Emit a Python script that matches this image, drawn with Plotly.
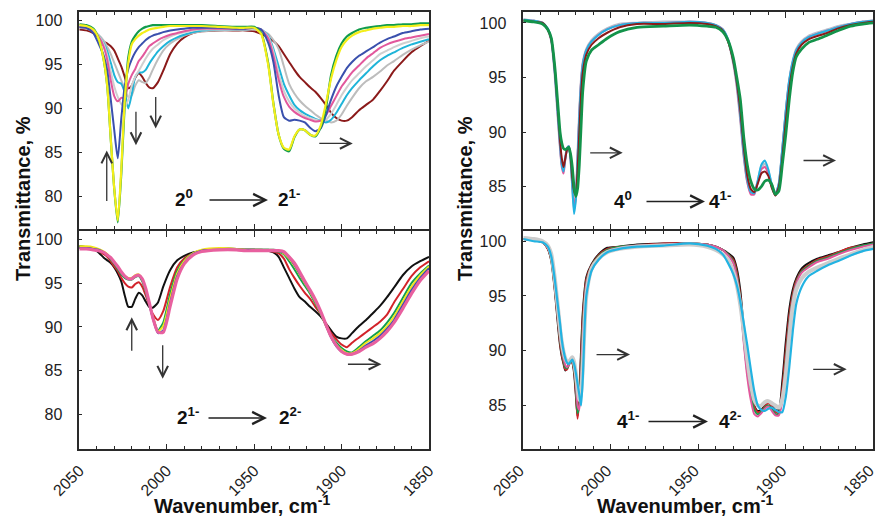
import plotly.graph_objects as go

# ---------------- data ----------------
# wavenumber grid for the left panels (cm-1)
XL = [2050, 2046, 2042, 2039, 2036, 2034, 2032, 2030, 2028, 2026,
      2024, 2022, 2020, 2018, 2016, 2014, 2012, 2010, 2008, 2005,
      2002, 1998, 1994, 1990, 1985, 1980, 1970, 1960, 1955,
      1950, 1946, 1942, 1939, 1936, 1933, 1930, 1927, 1924, 1921,
      1918, 1915, 1912, 1909, 1906, 1903, 1900, 1897, 1894, 1890,
      1886, 1882, 1878, 1874, 1870, 1865, 1860, 1855, 1850]

# top-left panel (2^0 -> 2^1-)
tl_maroon = [99.0, 98.9, 98.6, 98.1, 97.6, 97.4, 97.1, 96.6, 95.7, 94.8,
             93.6, 92.3, 92.6, 93.5, 94.0, 93.6, 92.9, 92.4, 92.3, 93.0,
             94.3, 96.2, 97.4, 98.1, 98.6, 98.8, 98.9, 98.9, 98.9,
             98.8, 98.5, 98.1, 97.7, 97.1, 96.2, 95.3, 94.4, 93.6, 93.0,
             92.4, 91.9, 91.2, 90.4, 89.5, 88.9, 88.6, 88.6, 89.0, 89.8,
             90.4, 91.0, 92.0, 93.1, 94.3, 95.4, 96.4, 97.1, 97.7]
tl_gray2 = [99.2, 99.1, 98.8, 98.4, 97.7, 97.0, 96.2, 95.2, 94.2, 93.2,
            92.2, 91.3, 91.5, 92.6, 93.2, 93.0, 92.9, 93.5, 94.4, 95.6,
            96.6, 97.4, 97.9, 98.3, 98.6, 98.8, 98.9, 99.0, 99.0,
            99.0, 98.9, 98.5, 97.8, 96.8, 94.8, 92.8, 91.7, 90.9, 90.3,
            89.8, 89.3, 88.9, 88.6, 88.4, 88.6, 89.3, 90.3, 91.2, 92.3,
            93.1, 93.6, 94.2, 94.9, 95.4, 96.1, 96.7, 97.2, 97.6]
tl_cyan = [99.3, 99.2, 98.8, 98.3, 97.4, 96.5, 95.2, 93.8, 93.0, 92.8,
           91.8, 90.0, 91.6, 93.6, 94.1, 94.1, 94.4, 95.1, 95.7, 96.5,
           97.1, 97.7, 98.1, 98.4, 98.7, 98.9, 99.0, 99.0, 99.0,
           99.1, 99.0, 98.3, 96.8, 94.8, 92.8, 91.5, 90.4, 89.8, 89.4,
           89.1, 88.8, 88.6, 88.4, 88.7, 89.5, 90.5, 91.5, 92.3, 93.2,
           94.0, 94.8, 95.5, 96.0, 96.4, 96.9, 97.3, 97.6, 97.9]
tl_gray1 = [99.3, 99.2, 98.8, 98.3, 97.3, 96.0, 94.2, 92.5, 91.3, 90.5,
            90.2, 91.0, 92.6, 93.6, 94.3, 95.0, 95.7, 96.3, 96.8, 97.3,
            97.8, 98.2, 98.5, 98.7, 98.9, 99.0, 99.0, 99.0, 99.0,
            99.1, 99.0, 98.2, 96.5, 94.0, 92.0, 90.8, 90.0, 89.5, 89.1,
            88.9, 88.7, 88.6, 88.7, 89.4, 90.4, 91.5, 92.4, 93.2, 94.0,
            94.8, 95.5, 96.2, 96.6, 97.0, 97.4, 97.7, 98.0, 98.2]
tl_pink = [99.3, 99.2, 98.8, 98.2, 97.0, 95.5, 93.2, 91.4, 90.8, 91.2,
           91.2, 92.8, 93.8, 94.5, 95.4, 95.9, 96.5, 97.1, 97.4, 97.8,
           98.1, 98.4, 98.6, 98.8, 99.0, 99.1, 99.1, 99.1, 99.1,
           99.2, 99.0, 98.0, 96.0, 93.3, 91.3, 90.2, 89.6, 89.2, 88.9,
           88.7, 88.5, 88.6, 89.2, 90.3, 91.4, 92.5, 93.3, 94.1, 94.9,
           95.7, 96.3, 96.9, 97.3, 97.6, 97.9, 98.1, 98.3, 98.5]
tl_blue = [99.3, 99.2, 98.6, 97.4, 96.0, 94.3, 91.0, 87.5, 84.3, 88.8,
           92.6, 94.5, 95.6, 96.4, 97.0, 97.4, 97.8, 98.1, 98.3, 98.5,
           98.7, 98.9, 99.0, 99.1, 99.2, 99.2, 99.2, 99.1, 99.1,
           99.2, 99.0, 97.5, 95.3, 91.5, 89.0, 88.6, 88.7, 88.6, 88.4,
           87.8, 87.4, 87.7, 89.2, 91.0, 92.5, 93.6, 94.6, 95.3, 96.0,
           96.5, 97.0, 97.5, 97.9, 98.2, 98.6, 98.8, 99.0, 99.1]
tl_green = [99.6, 99.5, 99.1, 98.0, 95.5, 92.5, 86.5, 80.8, 77.0, 82.5,
            90.5, 95.8, 97.6, 98.3, 98.8, 99.1, 99.3, 99.4, 99.5, 99.5,
            99.5, 99.5, 99.5, 99.5, 99.5, 99.5, 99.4, 99.3, 99.3,
            99.3, 98.6, 95.2, 90.6, 87.0, 85.4, 85.1, 86.7, 87.6, 87.5,
            87.0, 86.8, 87.8, 90.0, 93.8, 96.0, 97.4, 98.2, 98.6, 99.0,
            99.2, 99.3, 99.4, 99.5, 99.5, 99.6, 99.6, 99.7, 99.7]
tl_yellow = [99.5, 99.4, 99.0, 98.0, 95.5, 92.5, 86.5, 80.8, 77.2, 83.0,
             91.0, 95.2, 97.3, 97.9, 98.3, 98.6, 98.8, 99.0, 99.1, 99.2,
             99.3, 99.4, 99.4, 99.4, 99.4, 99.4, 99.3, 99.2, 99.2,
             99.2, 98.5, 95.0, 90.5, 87.0, 85.5, 85.3, 86.8, 87.6, 87.5,
             87.0, 86.9, 88.0, 90.5, 93.4, 95.5, 97.0, 97.8, 98.3, 98.7,
             98.9, 99.1, 99.2, 99.3, 99.3, 99.4, 99.4, 99.5, 99.5]

# bottom-left panel (2^1- -> 2^2-)
bl_black = [99.2, 99.1, 98.9, 98.5, 97.9, 97.6, 97.3, 96.8, 96.1, 95.2,
            93.6, 92.3, 92.3, 93.2, 93.9, 93.6, 92.9, 92.3, 92.2, 92.8,
            94.6, 96.5, 97.6, 98.1, 98.5, 98.7, 98.9, 98.9, 98.8,
            98.8, 98.7, 98.7, 98.5, 98.0, 96.8, 95.6, 94.4, 93.4, 92.9,
            92.3, 91.8, 91.2, 90.4, 89.6, 88.9, 88.7, 88.7, 89.3, 90.1,
            90.8, 91.6, 92.4, 93.4, 94.5, 95.9, 96.9, 97.5, 98.0]
bl_red = [99.0, 99.0, 98.9, 98.7, 98.3, 98.0, 97.5, 96.9, 96.4, 95.6,
          95.0, 94.6, 94.5, 94.9, 95.1, 94.6, 93.6, 92.5, 91.5, 90.8,
          91.8, 94.6, 96.8, 97.8, 98.4, 98.7, 98.9, 98.9, 98.8,
          98.8, 98.8, 98.7, 98.6, 98.4, 97.8, 96.6, 95.6, 94.7, 93.9,
          93.2, 92.3, 91.5, 90.4, 89.3, 88.6, 88.0, 87.7, 88.2, 88.8,
          89.4, 90.0, 90.6, 91.4, 92.8, 94.3, 95.8, 96.8, 97.5]
bl_green = [99.2, 99.1, 99.0, 98.8, 98.5, 98.2, 97.7, 97.2, 96.6, 96.0,
            95.6, 95.4, 95.4, 95.7, 95.8, 95.2, 94.0, 92.6, 91.2, 89.6,
            90.5, 93.8, 96.4, 97.6, 98.4, 98.7, 98.9, 98.9, 98.8,
            98.8, 98.8, 98.8, 98.7, 98.6, 98.3, 97.5, 96.6, 95.6, 94.7,
            93.8, 92.7, 91.5, 90.2, 89.0, 88.2, 87.6, 87.2, 87.1, 87.7,
            88.4, 89.0, 89.6, 90.5, 91.6, 93.3, 95.0, 96.1, 97.0]
bl_yellow = [99.2, 99.2, 99.1, 98.9, 98.6, 98.3, 97.8, 97.3, 96.8, 96.2,
             95.8, 95.6, 95.6, 95.9, 96.0, 95.4, 94.2, 92.7, 91.2, 89.5,
             90.1, 93.3, 96.1, 97.5, 98.4, 98.8, 99.0, 98.9, 98.8,
             98.8, 98.8, 98.8, 98.8, 98.7, 98.4, 97.8, 97.0, 96.0, 95.0,
             94.0, 92.9, 91.6, 90.2, 88.9, 88.0, 87.4, 87.0, 87.0, 87.5,
             88.2, 88.7, 89.3, 90.1, 91.2, 92.9, 94.6, 95.9, 96.9]
bl_blue = [99.0, 99.0, 98.9, 98.8, 98.5, 98.2, 97.8, 97.3, 96.8, 96.2,
           95.8, 95.5, 95.5, 95.8, 95.9, 95.4, 94.2, 92.6, 91.0, 89.3,
           89.6, 92.8, 95.8, 97.3, 98.3, 98.7, 98.8, 98.8, 98.8,
           98.8, 98.8, 98.8, 98.8, 98.7, 98.5, 97.9, 97.1, 96.1, 95.1,
           94.1, 93.0, 91.7, 90.2, 88.8, 87.8, 87.2, 86.9, 86.9, 87.3,
           87.9, 88.4, 89.0, 89.8, 90.8, 92.5, 94.2, 95.6, 96.7]
bl_pink = [98.9, 98.9, 98.8, 98.7, 98.5, 98.2, 97.9, 97.4, 96.9, 96.3,
           95.8, 95.5, 95.5, 95.8, 95.9, 95.5, 94.4, 92.8, 91.1, 89.4,
           89.4, 92.4, 95.5, 97.2, 98.2, 98.6, 98.8, 98.8, 98.7,
           98.7, 98.7, 98.7, 98.7, 98.7, 98.6, 98.0, 97.3, 96.3, 95.2,
           94.2, 93.1, 91.8, 90.3, 88.9, 87.9, 87.2, 86.9, 86.9, 87.2,
           87.7, 88.1, 88.7, 89.5, 90.5, 92.1, 93.8, 95.3, 96.4]

# wavenumber grid for the right panels (cm-1)
XR = [2050, 2044, 2039, 2036, 2034, 2032, 2030, 2029, 2028, 2027,
      2026, 2025, 2024, 2023, 2022, 2021, 2020, 2019, 2018, 2017,
      2016, 2014, 2011, 2007, 2002, 1995, 1985, 1970, 1955,
      1945, 1940, 1936, 1933, 1930, 1928, 1926, 1924, 1922, 1920,
      1918, 1916, 1914, 1912, 1910, 1908, 1906, 1904, 1902, 1900,
      1898, 1896, 1894, 1891, 1887, 1882, 1876, 1870, 1863, 1856, 1850]

# top-right panel (4^0 -> 4^1-)
tr_gray = [100.3, 100.2, 100.0, 99.4, 98.4, 95.3, 90.8, 88.7, 87.1, 86.8,
           87.7, 88.5, 88.7, 87.6, 85.2, 82.9, 84.0, 87.6, 91.6, 94.6,
           96.3, 97.6, 98.4, 99.0, 99.5, 99.9, 100.0, 100.1, 100.1,
           100.0, 99.8, 99.4, 98.4, 96.3, 94.2, 91.2, 87.8, 85.5, 84.5,
           84.5, 85.5, 86.8, 87.1, 86.4, 85.1, 84.3, 85.2, 88.3, 91.8,
           94.7, 96.5, 97.6, 98.3, 98.8, 99.1, 99.4, 99.7, 99.9, 100.1, 100.2]
tr_pink = [100.3, 100.2, 100.0, 99.4, 98.4, 95.4, 90.9, 88.6, 86.8, 86.2,
           87.5, 88.5, 88.7, 87.6, 85.3, 83.2, 84.0, 87.6, 91.6, 94.6,
           96.3, 97.5, 98.3, 98.9, 99.4, 99.8, 100.0, 100.0, 100.1,
           100.0, 99.8, 99.4, 98.4, 96.4, 94.3, 91.3, 87.8, 85.4, 84.3,
           84.3, 85.4, 86.6, 86.8, 86.2, 85.0, 84.2, 85.2, 88.4, 91.9,
           94.7, 96.4, 97.5, 98.2, 98.7, 99.0, 99.3, 99.6, 99.9, 100.1, 100.2]
tr_cyan = [100.3, 100.2, 100.0, 99.5, 98.5, 95.5, 91.0, 88.8, 87.0, 86.4,
           87.6, 88.5, 88.7, 87.5, 85.0, 82.5, 83.8, 87.5, 91.5, 94.5,
           96.2, 97.5, 98.3, 98.9, 99.4, 99.8, 100.0, 100.0, 100.1,
           100.0, 99.8, 99.4, 98.5, 96.5, 94.5, 91.5, 88.0, 85.6, 84.5,
           84.4, 85.6, 87.0, 87.4, 86.6, 85.2, 84.3, 85.3, 88.5, 92.0,
           94.8, 96.5, 97.5, 98.2, 98.7, 99.0, 99.3, 99.6, 99.9, 100.1, 100.2]
tr_maroon = [100.2, 100.1, 100.0, 99.4, 98.5, 95.8, 91.5, 89.2, 87.6, 86.8,
             87.6, 88.4, 88.6, 87.8, 85.8, 84.6, 84.2, 86.5, 90.0, 93.5,
             95.5, 97.1, 98.0, 98.6, 99.1, 99.6, 99.9, 99.9, 100.0,
             99.9, 99.7, 99.3, 98.3, 96.5, 94.6, 92.0, 88.6, 86.0, 84.8,
             84.5, 85.3, 86.2, 86.4, 86.0, 84.9, 84.2, 85.0, 87.6, 91.0,
             94.0, 96.0, 97.2, 98.0, 98.5, 98.8, 99.1, 99.5, 99.8, 100.0, 100.1]
tr_green = [100.2, 100.1, 99.9, 99.4, 98.6, 96.0, 92.0, 90.0, 89.0, 88.5,
            88.4, 88.5, 88.6, 88.0, 86.8, 85.0, 84.1, 84.8, 87.0, 90.5,
            93.8, 96.5, 97.5, 98.0, 98.6, 99.2, 99.6, 99.7, 99.8,
            99.7, 99.6, 99.2, 98.4, 96.8, 95.0, 93.0, 89.5, 87.0, 85.5,
            84.8, 84.7, 85.0, 85.5, 85.6, 85.2, 84.3, 84.6, 87.0, 89.8,
            93.0, 95.5, 96.9, 97.6, 98.2, 98.5, 98.9, 99.3, 99.7, 99.9, 100.0]

# bottom-right panel (4^1- -> 4^2-)
br_black = [100.2, 100.1, 99.9, 99.3, 98.2, 95.5, 92.0, 90.5, 89.5, 88.8,
            88.2, 88.4, 88.8, 89.0, 88.9, 88.0, 86.0, 84.0, 86.0, 90.0,
            93.5, 96.7, 97.9, 98.8, 99.4, 99.5, 99.7, 99.8, 99.8,
            99.7, 99.5, 99.2, 98.9, 98.5, 97.5, 95.5, 92.0, 89.0, 86.8,
            85.0, 84.5, 84.6, 85.0, 85.3, 85.0, 84.6, 84.6, 87.2, 90.8,
            93.8, 95.6, 96.6, 97.5, 98.0, 98.4, 98.7, 99.0, 99.4, 99.7, 99.9]
br_red = [100.2, 100.1, 99.9, 99.3, 98.3, 95.7, 92.3, 90.7, 89.6, 88.9,
          88.3, 88.3, 88.7, 89.0, 88.9, 88.2, 86.3, 83.8, 85.6, 89.5,
          93.0, 96.5, 97.8, 98.7, 99.3, 99.5, 99.6, 99.8, 99.8,
          99.7, 99.5, 99.2, 98.8, 98.3, 97.2, 95.0, 91.5, 88.6, 86.5,
          84.9, 84.4, 84.5, 84.9, 85.2, 84.9, 84.4, 84.3, 86.5, 90.0,
          93.2, 95.2, 96.4, 97.3, 97.8, 98.3, 98.6, 99.0, 99.4, 99.6, 99.8]
br_green = [100.2, 100.1, 99.9, 99.4, 98.4, 95.9, 92.6, 91.0, 89.9, 89.1,
            88.5, 88.4, 88.7, 89.0, 89.0, 88.4, 86.8, 84.3, 85.0, 88.5,
            92.2, 96.2, 97.7, 98.6, 99.2, 99.5, 99.6, 99.7, 99.8,
            99.7, 99.5, 99.2, 98.8, 98.1, 96.9, 94.6, 91.0, 88.0, 86.0,
            84.6, 84.2, 84.4, 84.8, 85.0, 84.7, 84.2, 84.2, 85.8, 89.2,
            92.6, 94.9, 96.2, 97.2, 97.7, 98.2, 98.5, 98.9, 99.3, 99.6, 99.8]
br_pink = [100.2, 100.1, 99.9, 99.4, 98.5, 96.0, 92.8, 91.2, 90.1, 89.3,
           88.7, 88.5, 88.7, 89.0, 89.1, 88.6, 87.2, 85.0, 84.6, 87.5,
           91.5, 96.0, 97.6, 98.5, 99.1, 99.4, 99.6, 99.7, 99.8,
           99.7, 99.5, 99.2, 98.7, 98.0, 96.7, 94.3, 90.7, 87.6, 85.5,
           84.2, 84.0, 84.3, 84.7, 84.9, 84.5, 84.1, 84.1, 85.4, 88.8,
           92.3, 94.7, 96.1, 97.1, 97.6, 98.1, 98.4, 98.8, 99.2, 99.5, 99.7]
br_gray = [100.3, 100.2, 100.0, 99.6, 98.8, 96.6, 93.6, 92.0, 90.8, 89.9,
           89.3, 89.0, 89.0, 89.2, 89.4, 89.0, 88.0, 86.6, 85.5, 86.2,
           88.5, 95.0, 97.5, 98.4, 99.0, 99.3, 99.5, 99.6, 99.7,
           99.5, 99.2, 98.8, 98.3, 97.2, 96.0, 94.2, 91.8, 89.2, 87.0,
           85.5, 85.0, 85.0, 85.3, 85.4, 85.2, 85.0, 84.8, 85.6, 87.8,
           91.2, 94.0, 95.6, 96.6, 97.2, 97.6, 98.0, 98.4, 98.8, 99.2, 99.5]
br_cyan = [100.2, 100.0, 99.9, 99.5, 98.6, 96.5, 93.8, 92.5, 91.0, 90.0,
           89.3, 88.9, 88.8, 89.0, 89.2, 88.8, 88.0, 87.0, 86.0, 85.0,
           87.5, 95.0, 97.3, 98.3, 99.0, 99.3, 99.5, 99.6, 99.8,
           99.6, 99.3, 98.8, 98.0, 97.0, 96.0, 94.5, 92.5, 90.5, 88.3,
           86.3, 85.0, 84.6, 84.5, 84.7, 84.8, 84.6, 84.4, 84.4, 85.8,
           88.5, 91.8, 94.3, 95.8, 96.8, 97.3, 97.8, 98.2, 98.7, 99.1, 99.3]

X_TICKS = [2050, 2000, 1950, 1900, 1850]
Y_TICKS_L = [80, 85, 90, 95, 100]
Y_TICKS_R = [85, 90, 95, 100]

# ---------------- figure ----------------
W, H = 879, 519
FONT = "Liberation Sans, Arial, sans-serif"
AX = "#2a2a2a"

fig = go.Figure()

panels = {
    "tl": ("x", "y", XL, [(tl_maroon, "#8b1a1a", 2), (tl_gray2, "#bdbdbd", 2),
                          (tl_cyan, "#1fb4d8", 2), (tl_gray1, "#cfcfcf", 2),
                          (tl_pink, "#e2589c", 2), (tl_blue, "#3a50ad", 2),
                          (tl_green, "#119c4b", 2.2), (tl_yellow, "#f3ee1a", 2.2)]),
    "bl": ("x2", "y2", XL, [(bl_black, "#111111", 2), (bl_red, "#d2232a", 2),
                            (bl_green, "#14a04c", 2), (bl_yellow, "#f1e51c", 2),
                            (bl_blue, "#3a50ad", 2), (bl_pink, "#e8609f", 3.2)]),
    "tr": ("x3", "y3", XR, [(tr_gray, "#b9bfcc", 2.5), (tr_pink, "#e2589c", 2),
                            (tr_cyan, "#22b3e2", 2), (tr_maroon, "#8b1a1a", 2),
                            (tr_green, "#13934a", 2.8)]),
    "br": ("x4", "y4", XR, [(br_black, "#111111", 2), (br_red, "#d2232a", 2),
                            (br_green, "#14a04c", 2), (br_pink, "#e2589c", 2),
                            (br_gray, "#cccccc", 4), (br_cyan, "#22b3e2", 2.2)]),
}

for key, (xa, ya, xs, series) in panels.items():
    for ys, col, lw in series:
        assert len(ys) == len(xs), (key, col, len(ys), len(xs))
        fig.add_trace(go.Scatter(x=xs, y=ys, xaxis=xa, yaxis=ya, mode="lines",
                                 line=dict(color=col, width=lw, shape="spline", smoothing=0.6),
                                 showlegend=False, hoverinfo="skip"))

# pixel geometry of the plotting areas
LX = (79.3, 429.0)
RX = (523.3, 873.3)
TY = (12.0, 229.3)
BY = (230.7, 449.3)


def xdom(p):
    return [p[0] / W, p[1] / W]


def ydom(p):
    return [1 - p[1] / H, 1 - p[0] / H]


def xaxis(domain, anchor, labels, shift=0):
    return dict(domain=domain, anchor=anchor, range=[2050, 1850], autorange=False,
                automargin=False, ticklabeloverflow="allow", ticklabelshift=shift,
                tickmode="array", tickvals=X_TICKS, ticktext=[str(v) for v in X_TICKS],
                showticklabels=labels, tickangle=-45,
                ticks="inside", ticklen=6, tickwidth=1.3, tickcolor=AX,
                minor=dict(ticks="inside", ticklen=3.5, tickwidth=1.1, tickcolor=AX,
                           tickmode="linear", tick0=1850, dtick=10, showgrid=False),
                showline=True, linecolor=AX, linewidth=1.6, mirror="allticks",
                showgrid=False, zeroline=False,
                tickfont=dict(family=FONT, size=16, color="#222"),
                ticklabelstandoff=4)


def yaxis(domain, anchor, rng, ticks):
    return dict(domain=domain, anchor=anchor, range=rng, autorange=False,
                automargin=False, ticklabeloverflow="allow",
                tickmode="array", tickvals=ticks,
                ticks="inside", ticklen=3, tickwidth=1.1, tickcolor=AX,
                showline=True, linecolor=AX, linewidth=1.6, mirror=True,
                showgrid=False, zeroline=False,
                tickfont=dict(family=FONT, size=16, color="#222"),
                ticklabelstandoff=12)


fig.update_layout(
    width=W, height=H, margin=dict(l=0, r=0, t=0, b=0, autoexpand=False),
    paper_bgcolor="white", plot_bgcolor="white",
    xaxis=xaxis(xdom(LX), "y", False),
    yaxis=yaxis(ydom(TY), "x", [76.2, 101.0], Y_TICKS_L),
    xaxis2=xaxis(xdom(LX), "y2", True),
    yaxis2=yaxis(ydom(BY), "x2", [76.05, 100.98], Y_TICKS_L),
    xaxis3=xaxis(xdom(RX), "y3", False),
    yaxis3=yaxis(ydom(TY), "x3", [81.1, 101.0], Y_TICKS_R),
    xaxis4=xaxis(xdom(RX), "y4", True, shift=4),
    yaxis4=yaxis(ydom(BY), "x4", [81.0, 100.96], Y_TICKS_R),
)

ann = []
ARR = dict(showarrow=True, arrowhead=5, arrowsize=1.6, arrowwidth=1.3,
           arrowcolor="#333", text="")

# arrows inside panels: head position in data coordinates, tail offset in px
panel_arrows = [
    ("x", "y", 2034.3, 85.2, 0, 52), ("x", "y", 2017.6, 85.8, 0, -35),
    ("x", "y", 2006.3, 87.7, 0, -33), ("x", "y", 1893.6, 86.0, -35, 0),
    ("x2", "y2", 2020.0, 91.1, 0, 35), ("x2", "y2", 2002.3, 84.1, 0, -35),
    ("x2", "y2", 1877.2, 85.75, -35, 0),
    ("x3", "y3", 1993.2, 88.1, -34, 0), ("x3", "y3", 1871.3, 87.4, -34, 0),
    ("x4", "y4", 1989.0, 89.65, -35, 0), ("x4", "y4", 1865.2, 88.3, -35, 0),
]
for xr, yr, hx, hy, axp, ayp in panel_arrows:
    ann.append(dict(xref=xr, yref=yr, x=hx, y=hy, ax=axp, ay=ayp, **ARR))

# transition labels: (left text, right text, left text right edge px, arrow tail px,
#                     arrow head px, right text left edge px, y px)
labels = [
    ("2<sup>0</sup>", "2<sup>1-</sup>", 195, 208, 268, 276, 200),
    ("2<sup>1-</sup>", "2<sup>2-</sup>", 201, 207, 267, 277, 418),
    ("4<sup>0</sup>", "4<sup>1-</sup>", 634, 645, 705, 707, 201.5),
    ("4<sup>1-</sup>", "4<sup>2-</sup>", 641, 647, 708, 717, 421.5),
]
LF = dict(family=FONT, size=19, color="#111")
LARR = dict(showarrow=True, arrowhead=5, arrowsize=1.5, arrowwidth=1.6,
            arrowcolor="#222", text="")
for lt, rt, lx, tx, hx, rx, yy in labels:
    ann.append(dict(xref="paper", yref="paper", x=lx / W, y=1 - (yy - 2) / H,
                    xanchor="right", yanchor="middle", text="<b>" + lt + "</b>",
                    showarrow=False, font=LF))
    ann.append(dict(xref="paper", yref="paper", x=rx / W, y=1 - (yy - 2) / H,
                    xanchor="left", yanchor="middle", text="<b>" + rt + "</b>",
                    showarrow=False, font=LF))
    ann.append(dict(xref="paper", yref="paper", x=hx / W, y=1 - yy / H,
                    ax=tx - hx, ay=0, **LARR))

TF = dict(family=FONT, size=20, color="#111")
for cx in (23, 465):
    ann.append(dict(xref="paper", yref="paper", x=cx / W, y=1 - 199 / H,
                    text="<b>Transmittance, %</b>", textangle=-90, showarrow=False,
                    font=TF, xanchor="center", yanchor="middle"))
for cx in (242, 685):
    ann.append(dict(xref="paper", yref="paper", x=cx / W, y=1 - 504 / H,
                    text="<b>Wavenumber, cm<sup>-1</sup></b>", showarrow=False,
                    font=TF, xanchor="center", yanchor="middle"))

fig.update_layout(annotations=ann)
fig.write_html("out.html")
